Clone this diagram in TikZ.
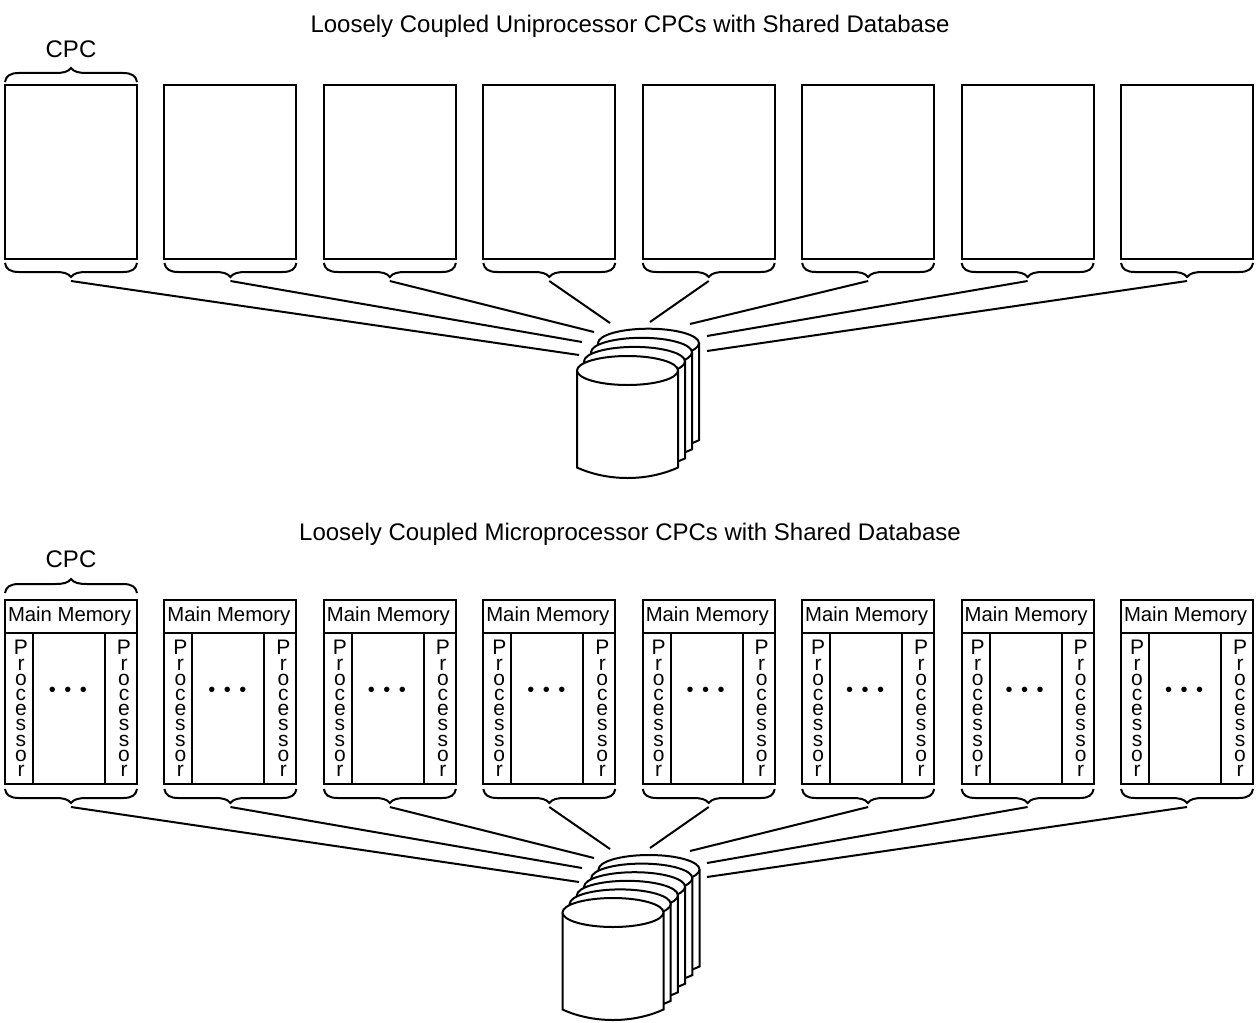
\documentclass[tikz,border=0pt]{standalone}
\usepackage{fontspec}
\setmainfont{Liberation Sans}

\newcommand{\stackfont}{\fontsize{21}{15.2}\selectfont\lineskiplimit=-30pt\relax}

\tikzset{
  caption/.style={inner sep=0pt, font=\fontsize{24}{28}\selectfont},
  cpcbox/.style={draw, line width=2pt, inner sep=0pt, outer sep=0pt, anchor=north west},
  memtext/.style={inner sep=0pt, font=\fontsize{20.3}{24}\selectfont},
  stacked/.style={inner sep=0pt, align=center, font=\stackfont},
  dots/.style={inner sep=0pt, font=\fontsize{20}{24}\selectfont},
  spoke/.style={line width=2pt},
  disk/.style={line width=2pt, fill=white}
}

% curly brace over a CPC, #1 = its left end, #2 = 1 above and -1 below
\newcommand{\drawbrace}[2]{
  \begin{scope}[shift={(#1)}, yscale=#2]
    \draw[spoke] (0,0) .. controls (1,-6) and (5,-9) .. (14,-9) -- (50,-9)
      .. controls (58,-9) and (63,-10) .. (66,-14) .. controls (69,-10) and (74,-9) .. (82,-9)
      -- (118,-9) .. controls (127,-9) and (131,-6) .. (132,0);
  \end{scope}
}

% one disk, #1 = centre of its top ellipse
\newcommand{\drawdisk}[1]{
  \begin{scope}[shift={#1}]
    \draw[disk] (-50.5,0) -- (-50.5,97) .. controls (-20,111) and (20,111) .. (50.5,97) -- (50.5,0);
    \draw[disk] (0,0) ellipse [x radius=50.5pt, y radius=14.5pt];
  \end{scope}
}

\begin{document}
\begin{tikzpicture}[x=1pt,y=-1pt]

  \useasboundingbox (0,0) rectangle (1257,1022);

  % Titles
  \node[caption] (titleA) at (630,26) {Loosely Coupled Uniprocessor CPCs with Shared Database};
  \node[caption] (titleB) at (630,534) {Loosely Coupled Microprocessor CPCs with Shared Database};
  \node[caption] (cpcA) at (71,49) {CPC};
  \node[caption] (cpcB) at (71,559) {CPC};

  % Spacing of the CPCs
  \def\cpcstep{159.43}

  % Upper row
  \foreach \i in {0,...,7} {
    \pgfmathsetmacro{\cpcx}{5+\cpcstep*\i}
    \node[cpcbox, minimum width=132pt, minimum height=174pt] (up\i) at (\cpcx,85) {};
    \drawbrace{\cpcx,263}{-1}
    \coordinate (upfoot\i) at ([yshift=-22pt]up\i.south);
  }
  \drawbrace{5,82}{1}

  % Lower row
  \foreach \i in {0,...,7} {
    \pgfmathsetmacro{\cpcx}{5+\cpcstep*\i}
    \node[cpcbox, minimum width=132pt, minimum height=33pt] (mem\i) at (\cpcx,600) {};
    \node[memtext] (memtext\i) at ([xshift=-1.5pt]mem\i.center) {Main Memory};
    \node[cpcbox, minimum width=28pt, minimum height=151pt] (procL\i) at (mem\i.south west) {};
    \node[cpcbox, minimum width=72pt, minimum height=151pt] (body\i) at (procL\i.north east) {};
    \node[cpcbox, minimum width=32pt, minimum height=151pt] (procR\i) at (body\i.north east) {};
    \node[stacked] (wordL\i) at ([xshift=2pt]procL\i.center) {P\\r\\o\\c\\e\\s\\s\\o\\r};
    \node[stacked] (wordR\i) at ([xshift=3pt]procR\i.center) {P\\r\\o\\c\\e\\s\\s\\o\\r};
    \node[dots] (dots\i) at ([xshift=-1pt,yshift=16.5pt]body\i.center)
      {\textbullet\hspace{8.5pt}\textbullet\hspace{8.5pt}\textbullet};
    \drawbrace{\cpcx,789}{-1}
    \coordinate (lowfoot\i) at ([yshift=-23pt]mem\i.center |- body\i.south);
  }
  \drawbrace{5,593}{1}

  % Free ends beside the disks
  \foreach \i/\ex/\ey in {0/579/355, 1/582/342, 2/594/332, 3/610/323, 4/650/322, 5/690/324, 6/707/336, 7/707/351} {
    \coordinate (upend\i) at (\ex,\ey);
    \draw[spoke] (upfoot\i) -- (upend\i);
  }
  \foreach \i/\ex/\ey in {0/579/882, 1/582/868, 2/594/858, 3/610/849, 4/650/848, 5/690/851, 6/707/863, 7/707/877} {
    \coordinate (lowend\i) at (\ex,\ey);
    \draw[spoke] (lowfoot\i) -- (lowend\i);
  }

  % Disk stacks, back to front
  \foreach \k in {3,2,1,0} {
    \drawdisk{(627.5+7*\k,370.5-9.1*\k)}
  }
  \foreach \k in {5,4,3,2,1,0} {
    \drawdisk{(613+7.2*\k,912.5-8.6*\k)}
  }

\end{tikzpicture}
\end{document}
